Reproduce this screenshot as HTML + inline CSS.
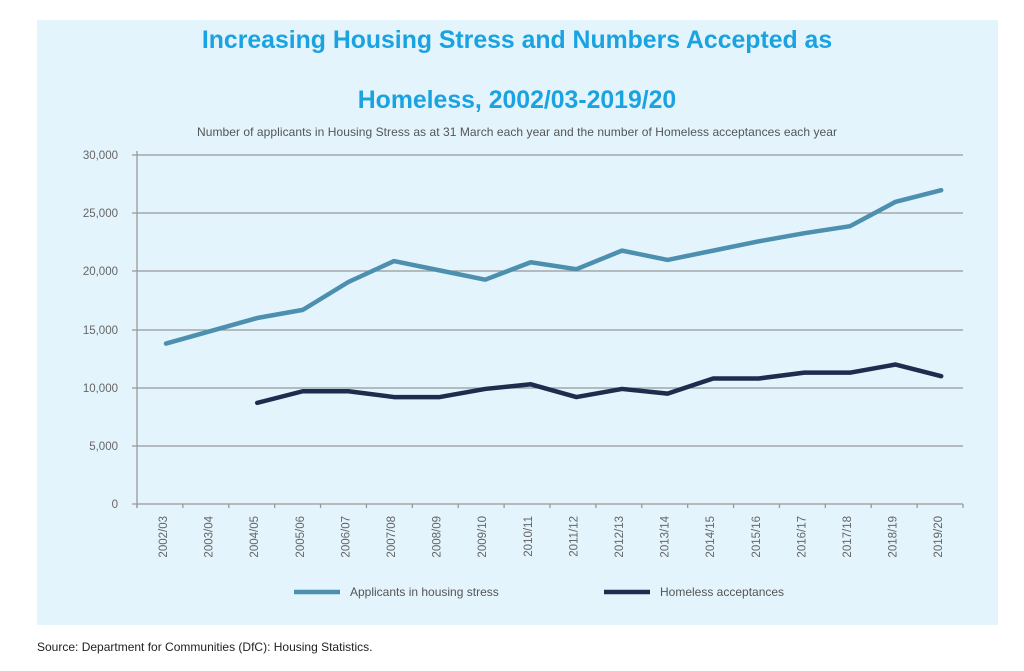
<!DOCTYPE html>
<html><head><meta charset="utf-8"><style>
body{margin:0;background:#fff;width:1024px;height:666px;overflow:hidden;font-family:"Liberation Sans",sans-serif}
</style></head><body>
<svg width="1024" height="666" xmlns="http://www.w3.org/2000/svg" font-family="Liberation Sans, sans-serif">
<rect x="37" y="20" width="961" height="605" fill="#e3f4fc"/>
<text x="517" y="48" text-anchor="middle" font-size="24.8" font-weight="bold" fill="#1aa3e0">Increasing Housing Stress and Numbers Accepted as</text>
<text x="517" y="108" text-anchor="middle" font-size="24.8" font-weight="bold" fill="#1aa3e0">Homeless, 2002/03-2019/20</text>
<text x="517" y="136" text-anchor="middle" font-size="12" fill="#555" textLength="640">Number of applicants in Housing Stress as at 31 March each year and the number of Homeless acceptances each year</text>
<g stroke="#999" stroke-width="1.3">
<line x1="132" y1="155" x2="963" y2="155"/><line x1="132" y1="213" x2="963" y2="213"/><line x1="132" y1="271" x2="963" y2="271"/><line x1="132" y1="330" x2="963" y2="330"/><line x1="132" y1="388" x2="963" y2="388"/><line x1="132" y1="446" x2="963" y2="446"/><line x1="132" y1="504" x2="963" y2="504"/>
<line x1="137" y1="151" x2="137" y2="508"/>
</g>
<g stroke="#999" stroke-width="1.3" id="ticks"></g>
<g font-size="11.5" fill="#666" text-anchor="end">
<text x="118" y="159">30,000</text><text x="118" y="217">25,000</text><text x="118" y="275">20,000</text><text x="118" y="334">15,000</text><text x="118" y="392">10,000</text><text x="118" y="450">5,000</text><text x="118" y="508">0</text>
</g>
<g id="xl" font-size="11.5" fill="#666"></g>
<polyline id="s1" fill="none" stroke="#4d8fae" stroke-width="4.5" stroke-linejoin="round" stroke-linecap="round"/>
<polyline id="s2" fill="none" stroke="#1e2c4e" stroke-width="4.5" stroke-linejoin="round" stroke-linecap="round"/>
<line x1="294" y1="592" x2="340" y2="592" stroke="#4d8fae" stroke-width="4.5"/>
<text x="350" y="596" font-size="12" fill="#555">Applicants in housing stress</text>
<line x1="604" y1="592" x2="650" y2="592" stroke="#1e2c4e" stroke-width="4.5"/>
<text x="660" y="596" font-size="12" fill="#555">Homeless acceptances</text>
<text x="37" y="651" font-size="12" fill="#222">Source: Department for Communities (DfC): Housing Statistics.</text>
</svg>
<script>
var labs=["2002/03","2003/04","2004/05","2005/06","2006/07","2007/08","2008/09","2009/10","2010/11","2011/12","2012/13","2013/14","2014/15","2015/16","2016/17","2017/18","2018/19","2019/20"];
var s1=[13800,14900,16000,16700,19100,20900,20100,19300,20800,20200,21800,21000,21800,22600,23300,23900,26000,27000];
var s2=[null,null,8700,9700,9700,9200,9200,9900,10300,9200,9900,9500,10800,10800,11300,11300,12000,11000];
var ns="http://www.w3.org/2000/svg",st=45.6;
function X(i){return 166+st*i}function Y(v){return 504-v*348.7/30000}
var t=document.getElementById("ticks"),xl=document.getElementById("xl");
for(var i=0;i<=18;i++){var l=document.createElementNS(ns,"line");var x=137+(963-137)/18*i;l.setAttribute("x1",x);l.setAttribute("x2",x);l.setAttribute("y1",504);l.setAttribute("y2",508);t.appendChild(l);}
var p1=[],p2=[];
labs.forEach(function(s,i){var e=document.createElementNS(ns,"text");e.setAttribute("transform","translate("+(X(i)+1)+",516) rotate(-90)");e.setAttribute("text-anchor","end");e.textContent=s;xl.appendChild(e);
p1.push(X(i)+","+Y(s1[i]));if(s2[i]!=null)p2.push(X(i)+","+Y(s2[i]));});
document.getElementById("s1").setAttribute("points",p1.join(" "));
document.getElementById("s2").setAttribute("points",p2.join(" "));
</script>
</body></html>
